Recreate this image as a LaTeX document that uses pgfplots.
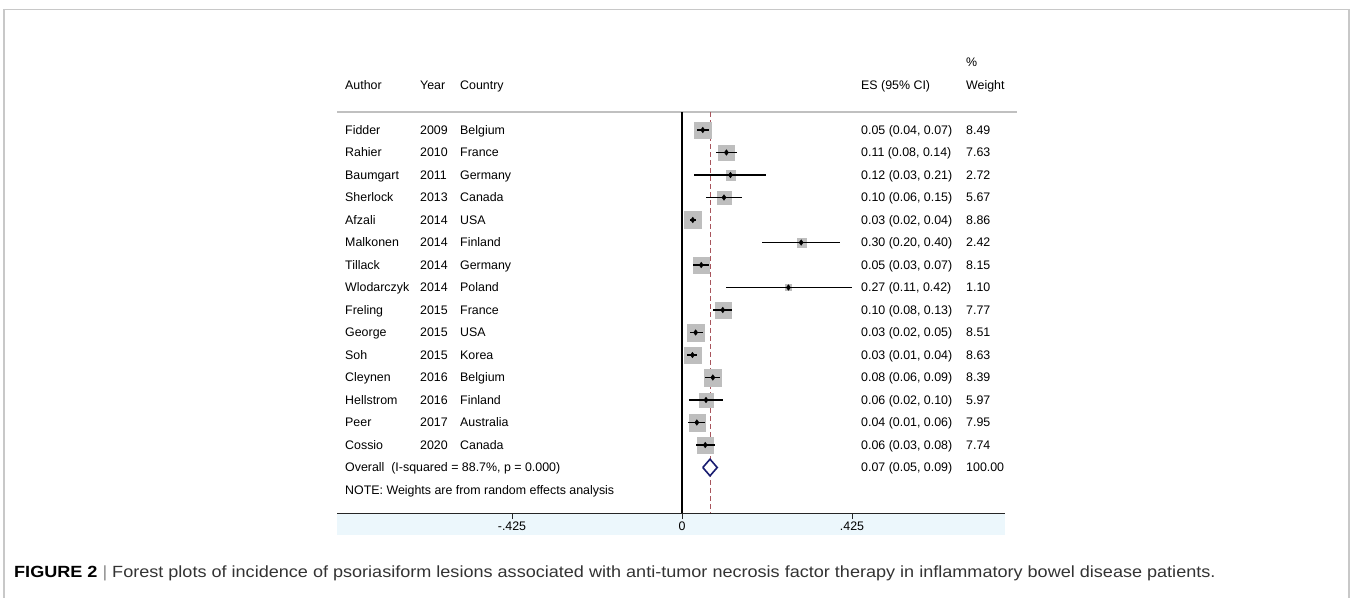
\documentclass[border=0pt]{standalone}
\usepackage{fontspec}
\setmainfont{Liberation Sans}
\newfontfamily\capfont[FakeStretch=1.115]{Liberation Sans}
\usepackage{pgfplots}
\usepackage{pgfplotstable}
\pgfplotsset{compat=1.18}
\definecolor{boxgray}{RGB}{190,190,190}
\definecolor{bandblue}{RGB}{236,247,252}
\definecolor{dashcol}{RGB}{168,84,92}
\definecolor{navy}{RGB}{24,28,112}
\definecolor{framegray}{RGB}{200,200,200}
\definecolor{hdrline}{RGB}{192,192,192}

% row, estimate, lower/upper distance of the 95% CI, weight
\pgfplotstableread{
row es em ep w
-1 0.052 0.015 0.016 8.49
-2 0.111 0.026 0.026 7.63
-3 0.121 0.090 0.089 2.72
-4 0.105 0.046 0.045 5.67
-5 0.027 0.007 0.008 8.86
-6 0.298 0.097 0.098 2.42
-7 0.048 0.020 0.020 8.15
-8 0.266 0.157 0.158 1.10
-9 0.102 0.024 0.024 7.77
-10 0.034 0.014 0.018 8.51
-11 0.026 0.014 0.012 8.63
-12 0.077 0.019 0.019 8.39
-13 0.060 0.042 0.042 5.97
-14 0.037 0.021 0.021 7.95
-15 0.058 0.023 0.025 7.74
}\studies

\newcommand{\tf}{\fontsize{12.4bp}{14bp}\selectfont}
\def\ax{-0.8425} \def\yr{-0.655} \def\ct{-0.555} \def\es{0.4475} \def\wt{0.71}
\tikzset{tt/.style={anchor=base west, font=\tf, inner sep=0pt, yshift=-4.4bp}}
\newcommand{\trow}[6]{%
  \node[tt] at (axis cs:\ax,-#1) {#2};
  \node[tt] at (axis cs:\yr,-#1) {#3};
  \node[tt] at (axis cs:\ct,-#1) {#4};
  \node[tt] at (axis cs:\es,-#1) {#5};
  \node[tt] at (axis cs:\wt,-#1) {#6};}
% weight box: half side in bp, x, row
\newcommand{\wbox}[3]{\addplot[only marks, mark=square*, mark size=#1bp, boxgray, mark options={draw=boxgray, fill=boxgray, line width=0.1bp}] coordinates {(#2,-#3)};}
\begin{document}
\begin{tikzpicture}
\useasboundingbox (0,0) rectangle (1352bp,-598bp);
% outer frame
\draw[framegray, line width=1.5bp] (4bp,-600bp) -- (4bp,-9.5bp) -- (1349bp,-9.5bp) -- (1349bp,-600bp);
% light band under the axis
\fill[bandblue] (337bp,-513bp) rectangle (1005bp,-535bp);
% header separator
\draw[hdrline, line width=1.3bp] (337bp,-112bp) -- (1017bp,-112bp);
\begin{axis}[
  at={(337bp,-513bp)}, anchor=south west,
  scale only axis, width=668bp, height=401bp,
  xmin=-0.8625, xmax=0.8075, ymin=-18.022, ymax=-0.2,
  axis y line=none, axis x line*=bottom,
  axis line style={black!85, line width=1bp, -},
  xtick={-0.425,0,0.425}, xticklabels={-.425,0,.425},
  tick align=outside, major tick length=6bp,
  tick style={black!85, line width=0.9bp},
  xtick pos=bottom,
  ticklabel style={font=\tf},
  xticklabel style={yshift=1bp},
  clip=false, clip marker paths=true,
]
% overall dashed line and zero line
\addplot[dashcol, line width=1bp, dash pattern=on 5bp off 3bp] coordinates {(0.07,-0.2) (0.07,-18.022)};
\addplot[black, line width=1.1bp] coordinates {(0,-0.2) (0,-18.022)};
% weight boxes (side proportional to sqrt of weight)
\wbox{8.32}{0.052}{1}
\wbox{7.89}{0.111}{2}
\wbox{4.71}{0.121}{3}
\wbox{6.80}{0.105}{4}
\wbox{8.50}{0.027}{5}
\wbox{4.44}{0.298}{6}
\wbox{8.15}{0.048}{7}
\wbox{3.00}{0.266}{8}
\wbox{7.96}{0.102}{9}
\wbox{8.33}{0.034}{10}
\wbox{8.39}{0.026}{11}
\wbox{8.27}{0.077}{12}
\wbox{6.98}{0.060}{13}
\wbox{8.05}{0.037}{14}
\wbox{7.94}{0.058}{15}
% CIs and point estimates
\addplot[only marks, mark=diamond*, mark size=2.8, black,
  error bars/.cd, x dir=both, x explicit, error mark=none,
  error bar style={line width=1.5bp, black}]
  table[x=es, y=row, x error minus=em, x error plus=ep] {\studies};
% overall diamond
\addplot[navy, line width=1.6bp, fill=white] coordinates {(0.052,-16) (0.07,-15.63) (0.088,-16) (0.07,-16.37) (0.052,-16)};

% table text
\node[tt] at (axis cs:\wt,2) {\%};
\node[tt] at (axis cs:\ax,1) {Author};
\node[tt] at (axis cs:\yr,1) {Year};
\node[tt] at (axis cs:\ct,1) {Country};
\node[tt] at (axis cs:\es,1) {ES (95\% CI)};
\node[tt] at (axis cs:\wt,1) {Weight};
\trow{1}{Fidder}{2009}{Belgium}{0.05 (0.04, 0.07)}{8.49}
\trow{2}{Rahier}{2010}{France}{0.11 (0.08, 0.14)}{7.63}
\trow{3}{Baumgart}{2011}{Germany}{0.12 (0.03, 0.21)}{2.72}
\trow{4}{Sherlock}{2013}{Canada}{0.10 (0.06, 0.15)}{5.67}
\trow{5}{Afzali}{2014}{USA}{0.03 (0.02, 0.04)}{8.86}
\trow{6}{Malkonen}{2014}{Finland}{0.30 (0.20, 0.40)}{2.42}
\trow{7}{Tillack}{2014}{Germany}{0.05 (0.03, 0.07)}{8.15}
\trow{8}{Wlodarczyk}{2014}{Poland}{0.27 (0.11, 0.42)}{1.10}
\trow{9}{Freling}{2015}{France}{0.10 (0.08, 0.13)}{7.77}
\trow{10}{George}{2015}{USA}{0.03 (0.02, 0.05)}{8.51}
\trow{11}{Soh}{2015}{Korea}{0.03 (0.01, 0.04)}{8.63}
\trow{12}{Cleynen}{2016}{Belgium}{0.08 (0.06, 0.09)}{8.39}
\trow{13}{Hellstrom}{2016}{Finland}{0.06 (0.02, 0.10)}{5.97}
\trow{14}{Peer}{2017}{Australia}{0.04 (0.01, 0.06)}{7.95}
\trow{15}{Cossio}{2020}{Canada}{0.06 (0.03, 0.08)}{7.74}
\node[tt] at (axis cs:\ax,-16) {Overall\ \ (I-squared = 88.7\%, p = 0.000)};
\node[tt] at (axis cs:\es,-16) {0.07 (0.05, 0.09)};
\node[tt] at (axis cs:\wt,-16) {100.00};
\node[tt] at (axis cs:\ax,-17) {NOTE: Weights are from random effects analysis};
\end{axis}
% caption
\node[anchor=base west, inner sep=0pt, font=\capfont\fontsize{16.2bp}{19bp}\selectfont, text=black!80] at (14bp,-577bp)
  {\textbf{\color{black}FIGURE 2} {\color{black!45}|} Forest plots of incidence of psoriasiform lesions associated with anti-tumor necrosis factor therapy in inflammatory bowel disease patients.};
\end{tikzpicture}
\end{document}
